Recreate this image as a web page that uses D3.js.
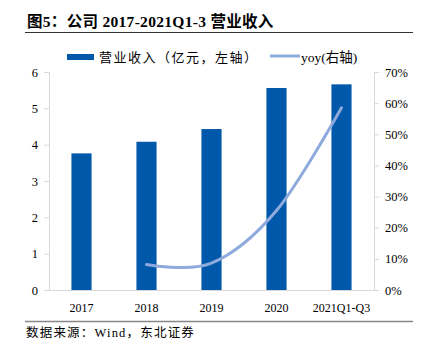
<!DOCTYPE html>
<html><head><meta charset="utf-8">
<script src="https://cdn.jsdelivr.net/npm/d3@7"></script>
<style>
body{margin:0;background:#fff;}
svg{display:block;}
</style></head>
<body>
<svg id="chart" width="425" height="347"></svg>
<script>
const categories = ["2017","2018","2019","2020","2021Q1-Q3"];
const revenue = [3.76, 4.08, 4.43, 5.56, 5.66];
const yoyCategories = ["2018","2019","2020","2021Q1-Q3"];
const yoy = [0.082, 0.086, 0.255, 0.585];
const leftTicks = [0,1,2,3,4,5,6];
const rightTicks = [0,0.1,0.2,0.3,0.4,0.5,0.6,0.7];
const titleText = "图5：公司 2017-2021Q1-3 营业收入";
const sourceText = "数据来源：Wind，东北证券";
const legendBar = "营业收入（亿元，左轴）";
const legendLine = "yoy(右轴)";

const svg = d3.select("#chart");
const serif = "'Liberation Serif','Noto Sans CJK SC',serif";
const cjk = "'Liberation Serif','Noto Sans CJK SC',sans-serif";
const L = 49, R = 374, T = 72, B = 290;

const x = d3.scaleBand().domain(categories).range([L, R]).paddingInner(0.69).paddingOuter(0.345);
const y = d3.scaleLinear().domain([0,6]).range([B, T]);
const y2 = d3.scaleLinear().domain([0,0.7]).range([B, T]);

// title
svg.append("text").attr("x",27).attr("y",27).attr("font-family",cjk).attr("font-weight","bold")
  .attr("font-size",15.5).attr("letter-spacing",0.3).attr("fill","#000").text(titleText);
svg.append("line").attr("x1",25).attr("x2",413).attr("y1",32.5).attr("y2",32.5).attr("stroke","#333").attr("stroke-width",1.2);

// axes
const axisColor = "#d9d9d9";
const gl = svg.append("g").attr("transform",`translate(${L},0)`)
  .call(d3.axisLeft(y).tickValues(leftTicks).tickSize(5).tickPadding(6).tickFormat(d3.format("d")));
const gr = svg.append("g").attr("transform",`translate(${R},0)`)
  .call(d3.axisRight(y2).tickValues(rightTicks).tickSize(5).tickPadding(6).tickFormat(d3.format(".0%")));
[gl,gr].forEach(g=>{
  g.select(".domain").attr("stroke",axisColor);
  g.selectAll(".tick line").attr("stroke",axisColor);
  g.selectAll("text").attr("font-family",serif).attr("font-size",12.5).attr("fill","#000");
});
const gx = svg.append("g").attr("transform",`translate(0,${B})`)
  .call(d3.axisBottom(x).tickSize(0).tickPadding(13));
gx.select(".domain").remove();
gx.selectAll("text").attr("font-family",serif).attr("font-size",12).attr("fill","#000");
svg.append("line").attr("x1",L-5).attr("x2",R+4).attr("y1",B+0.5).attr("y2",B+0.5).attr("stroke",axisColor);

// bars
svg.append("g").selectAll("rect").data(categories).join("rect")
  .attr("x",d=>x(d)).attr("width",x.bandwidth())
  .attr("y",(d,i)=>y(revenue[i])).attr("height",(d,i)=>B-y(revenue[i]))
  .attr("fill","#0058AA");

// line
const line = d3.line().x((d,i)=>x(yoyCategories[i])+x.bandwidth()/2).y(d=>y2(d)).curve(d3.curveCatmullRom.alpha(0));
svg.append("path").datum(yoy).attr("d",line).attr("fill","none").attr("stroke","#8EAADC")
  .attr("stroke-width",3).attr("stroke-linecap","round");

// legend
svg.append("rect").attr("x",67).attr("y",54).attr("width",27).attr("height",6).attr("fill","#0058AA");
svg.append("text").attr("x",99).attr("y",62).attr("font-family",cjk).attr("font-size",13).attr("letter-spacing",1.5).attr("fill","#000").text(legendBar);
svg.append("line").attr("x1",270).attr("x2",300).attr("y1",56).attr("y2",56).attr("stroke","#8EAADC").attr("stroke-width",3);
svg.append("text").attr("x",301).attr("y",62).attr("font-family",cjk).attr("font-size",13.5).attr("fill","#000").text(legendLine);

// source
svg.append("line").attr("x1",25).attr("x2",413).attr("y1",321.5).attr("y2",321.5).attr("stroke","#888").attr("stroke-width",1.5);
svg.append("text").attr("x",26).attr("y",337).attr("font-family",cjk).attr("font-size",12.5).attr("letter-spacing",1.2).attr("fill","#000").text(sourceText);
</script>
</body></html>
